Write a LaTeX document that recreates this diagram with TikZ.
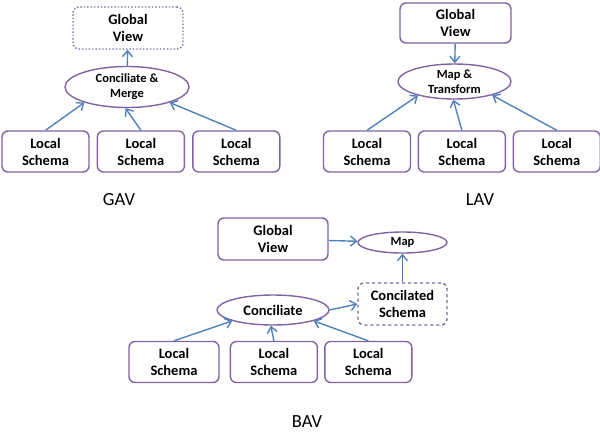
\documentclass[tikz,border=0pt]{standalone}
\usepackage{fontspec}
\setmainfont{Carlito}
\usetikzlibrary{arrows.meta,positioning,shapes}
\definecolor{boxpurple}{RGB}{128,100,162}
\definecolor{linkblue}{RGB}{79,129,189}

\begin{document}
\begin{tikzpicture}[
  x=1pt, y=-1pt,
  every node/.style={font=\fontsize{14.5}{17}\selectfont\bfseries},
  box/.style={draw=boxpurple, line width=1.4pt, rounded corners=6pt, align=center,
    minimum width=87pt, minimum height=41pt, inner sep=2pt},
  oval/.style={draw=boxpurple, line width=1.4pt, ellipse, align=center, inner sep=0pt},
  small/.style={font=\fontsize{12.5}{15}\selectfont\bfseries},
  link/.style={draw=linkblue, line width=1.4pt, -{Straight Barb[length=6pt,width=10pt]}},
  caption/.style={font=\fontsize{18.5}{22}\selectfont}
]
\useasboundingbox (0,0) rectangle (600,437);

% GAV
\node[box, dotted, minimum width=110pt, minimum height=42pt] (GGlobal) at (128,28) {Global\\View};
\node[oval, small, minimum width=124pt, minimum height=41pt] (GMerge) at (127,87) {Conciliate \&\\Merge};
\node[box] (GLocA) at (45.5,151.5) {Local\\Schema};
\node[box, right=7pt of GLocA] (GLocB) {Local\\Schema};
\node[box, right=7pt of GLocB] (GLocC) {Local\\Schema};
\node[caption] (GAV) at (119,200) {GAV};

\draw[link] (GMerge) -- (GGlobal);
\draw[link] (GLocA.north) -- (GMerge.200);
\draw[link] (GLocB.north) -- (GMerge.266);
\draw[link] (GLocC.north) -- (GMerge.340);

% LAV
\node[box, minimum width=111pt, minimum height=40pt] (LGlobal) at (455.5,23) {Global\\View};
\node[oval, small, minimum width=113pt, minimum height=35pt] (LMap) at (454.5,81.5) {Map \&\\Transform};
\node[box] (LLocA) at (367,151.5) {Local\\Schema};
\node[box, right=6.5pt of LLocA] (LLocB) {Local\\Schema};
\node[box, right=6.5pt of LLocB] (LLocC) {Local\\Schema};
\node[caption] (LAV) at (480,200) {LAV};

\draw[link] (LGlobal) -- (LMap);
\draw[link] (LLocA.north) -- (LMap.201);
\draw[link] (LLocB.north) -- (LMap.266);
\draw[link] (LLocC.north) -- (LMap.340);

% BAV
\node[box, minimum width=110pt, minimum height=42pt] (BGlobal) at (273,239) {Global\\View};
\node[oval, small, minimum width=89pt, minimum height=21pt] (BMap) at (402.5,242.5) {Map};
\node[box, dashed, minimum width=89pt, minimum height=42pt] (BConciled) at (402.5,304) {Concilated\\Schema};
\node[oval, minimum width=112pt, minimum height=30pt] (BConcile) at (273,310) {Conciliate};
\node[box, minimum width=90pt] (BLocA) at (174,362) {Local\\Schema};
\node[box, right=10pt of BLocA] (BLocB) {Local\\Schema};
\node[box, right=6pt of BLocB] (BLocC) {Local\\Schema};
\node[caption] (BAV) at (307,422) {BAV};

\draw[link] (BGlobal) -- (BMap);
\draw[link] (BConciled) -- (BMap);
\draw[link] (BConcile.east) -- (BConciled.west);
\draw[link] (BLocA.north) -- (BConcile.195);
\draw[link] (BLocB.north) -- (BConcile.262);
\draw[link] (BLocC.north) -- (BConcile.345);

\end{tikzpicture}
\end{document}
